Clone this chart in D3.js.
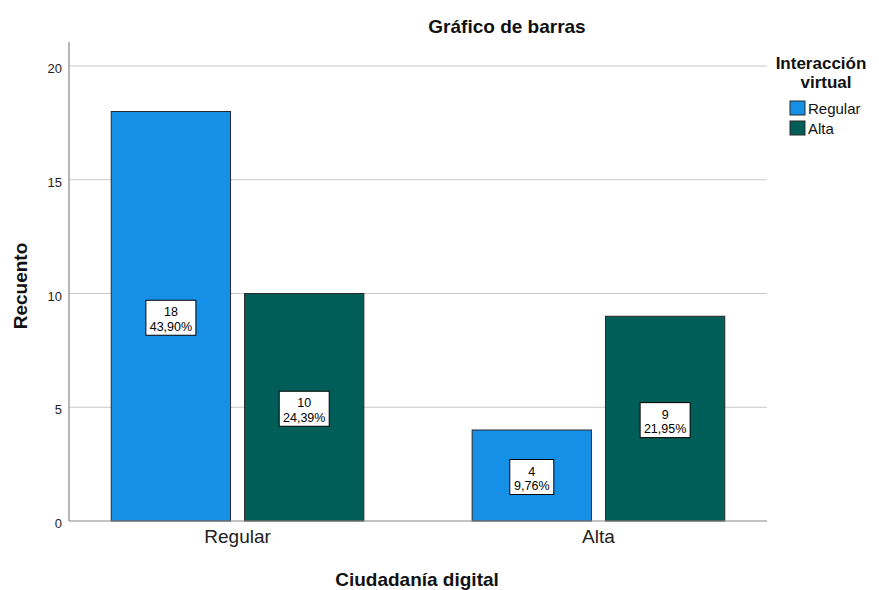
<!DOCTYPE html>
<html><head><meta charset="utf-8">
<script src="https://cdn.jsdelivr.net/npm/d3@7"></script>
<style>body{margin:0;background:#fff}svg{font-family:"Liberation Sans",Arial,sans-serif}</style>
</head><body>
<svg id="c" width="879" height="590"></svg>
<script>
const categories = ["Regular", "Alta"];
const series = ["Regular", "Alta"];
const counts = {Regular: [18, 10], Alta: [4, 9]};
const percents = {Regular: ["43,90%", "24,39%"], Alta: ["9,76%", "21,95%"]};
const yTicks = [0, 5, 10, 15, 20];
const colors = ["#1590e6", "#005e58"];

const svg = d3.select("#c");
const L = 69, R = 767, T = 42, B = 521;
const y = d3.scaleLinear().domain([0, 20]).range([B, 66]);
const x0 = d3.scaleBand().domain(categories).range([L, R]).paddingInner(0.3).paddingOuter(0.117);
const x1 = d3.scaleBand().domain(series).range([0, x0.bandwidth()]).paddingInner(0.105);

// gridlines
svg.append("g").selectAll("line").data(yTicks.filter(d => d > 0)).join("line")
  .attr("x1", L).attr("x2", R).attr("y1", d => y(d)).attr("y2", d => y(d))
  .attr("stroke", "#c8c8c8").attr("stroke-width", 1.2);

// y axis
const yAxis = svg.append("g").attr("transform", `translate(${L},0)`)
  .call(d3.axisLeft(y).tickValues(yTicks).tickSize(0).tickPadding(7));
yAxis.select(".domain").remove();
yAxis.selectAll("text").attr("font-size", 13).attr("fill", "#222").attr("font-family", "Liberation Sans, Arial, sans-serif").attr("dy", "0.5em");
svg.append("line").attr("x1", L).attr("x2", L).attr("y1", T).attr("y2", B).attr("stroke", "#888").attr("stroke-width", 1.2);

// bars
const groups = svg.append("g").selectAll("g").data(categories).join("g")
  .attr("transform", d => `translate(${x0(d)},0)`);
const rows = c => series.map((s, i) => ({c, s, i, v: counts[c][i], p: percents[c][i]}));
groups.selectAll("rect").data(rows).join("rect")
  .attr("x", d => x1(d.s)).attr("width", x1.bandwidth())
  .attr("y", d => y(d.v)).attr("height", d => B - y(d.v))
  .attr("fill", d => colors[d.i]).attr("stroke", "#2a2a2a").attr("stroke-width", 1);

// labels
const lab = groups.selectAll("g.lab").data(rows).join("g")
  .attr("class", "lab")
  .attr("transform", d => `translate(${x1(d.s) + x1.bandwidth() / 2},${y(d.v / 2)})`);
lab.append("rect").attr("x", d => d.p.length > 5 ? -25 : -22).attr("width", d => d.p.length > 5 ? 50 : 44)
  .attr("y", -16).attr("height", 35).attr("fill", "#fff").attr("stroke", "#000").attr("stroke-width", 1);
lab.append("text").attr("text-anchor", "middle").attr("y", 0).attr("font-size", 12.5).attr("fill", "#000").text(d => d.v);
lab.append("text").attr("text-anchor", "middle").attr("y", 14.5).attr("font-size", 12.5).attr("fill", "#000").text(d => d.p);

// x axis
svg.append("line").attr("x1", L).attr("x2", R).attr("y1", B).attr("y2", B).attr("stroke", "#888").attr("stroke-width", 1.2);
const xAxis = svg.append("g").attr("transform", `translate(0,${B})`)
  .call(d3.axisBottom(x0).tickSize(0).tickPadding(10));
xAxis.select(".domain").remove();
xAxis.selectAll("text").attr("font-size", 19).attr("fill", "#222").attr("font-family", "Liberation Sans, Arial, sans-serif").attr("dy", "0.62em");

// titles
svg.append("text").attr("x", 507).attr("y", 33).attr("text-anchor", "middle").attr("font-size", 19).attr("font-weight", "bold").attr("fill", "#111").text("Gráfico de barras");
svg.append("text").attr("x", 417).attr("y", 586).attr("text-anchor", "middle").attr("font-size", 19).attr("font-weight", "bold").attr("fill", "#111").text("Ciudadanía digital");
svg.append("text").attr("transform", "translate(27,286) rotate(-90)").attr("text-anchor", "middle").attr("font-size", 19).attr("font-weight", "bold").attr("fill", "#111").text("Recuento");

// legend
const lg = svg.append("g");
lg.append("text").attr("x", 821).attr("y", 69).attr("text-anchor", "middle").attr("font-size", 17).attr("font-weight", "bold").attr("fill", "#111").text("Interacción");
lg.append("text").attr("x", 826).attr("y", 88).attr("text-anchor", "middle").attr("font-size", 17).attr("font-weight", "bold").attr("fill", "#111").text("virtual");
const li = lg.selectAll("g.it").data(series).join("g").attr("class", "it")
  .attr("transform", (d, i) => `translate(790,${101 + i * 20})`);
li.append("rect").attr("width", 15).attr("height", 14).attr("fill", (d, i) => colors[i]).attr("stroke", "#2a2a2a");
li.append("text").attr("x", 18).attr("y", 13).attr("font-size", 15).attr("fill", "#111").text(d => d);
</script>
</body></html>
